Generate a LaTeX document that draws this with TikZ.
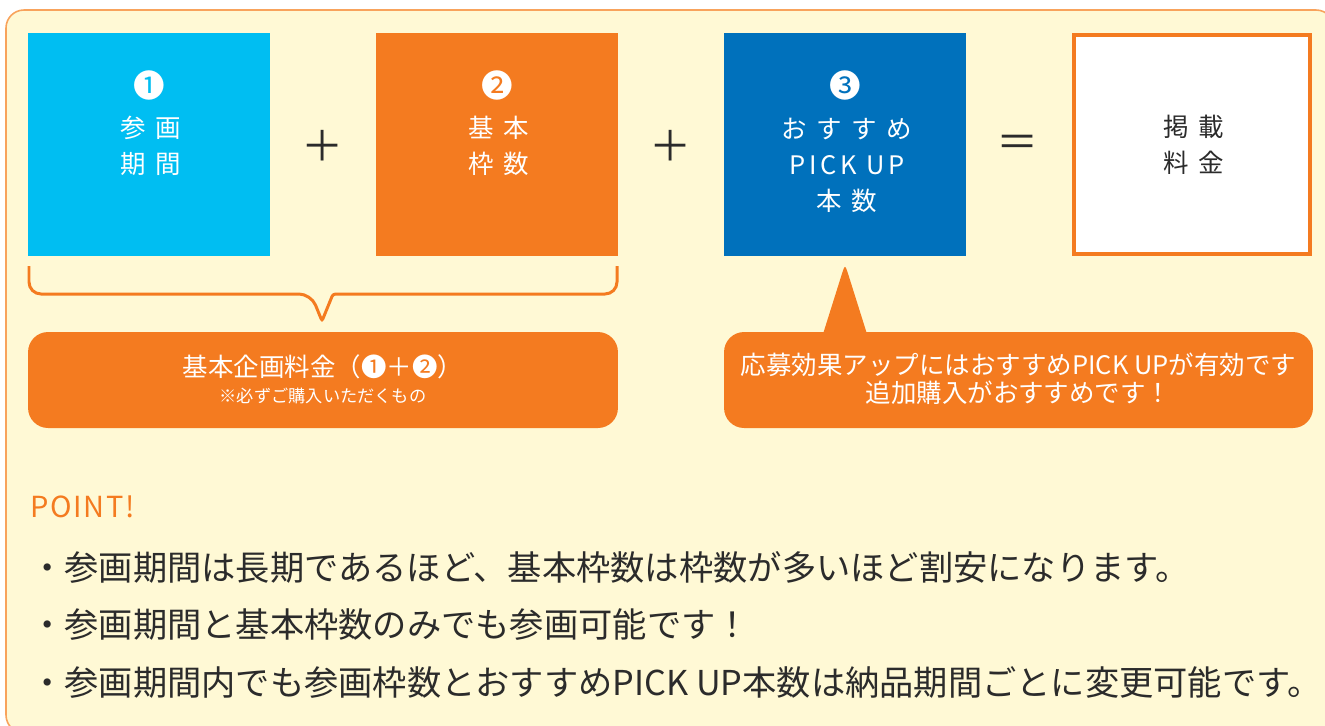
\documentclass[tikz,border=0pt]{standalone}
\usepackage{fontspec}
\usepackage{xcolor}
\usepackage{tikz}
\usetikzlibrary{positioning}
\setmainfont{Noto Sans CJK JP}
\newfontfamily\spacedfont[LetterSpace=37]{Noto Sans CJK JP}
\newfontfamily\latinspaced[LetterSpace=14]{Noto Sans CJK JP}
\newfontfamily\pointfont[LetterSpace=6]{Noto Sans CJK JP}

\definecolor{paneyellow}{HTML}{FFF9D5}
\definecolor{paneedge}{HTML}{F8A35C}
\definecolor{termcyan}{HTML}{00BEF2}
\definecolor{termorange}{HTML}{F47B20}
\definecolor{termblue}{HTML}{0071BC}
\definecolor{inkgray}{HTML}{2B2B2B}

\tikzset{
term box/.style = { rectangle, draw = none, minimum width = 4.84cm, minimum height = 4.46cm, inner sep = 0pt },
total box/.style = { rectangle, draw = termorange, fill = white, line width = 2.2pt, minimum width = 4.72cm, minimum height = 4.38cm, inner sep = 0pt },
term text/.style = { text = white, align = center, inner sep = 0pt, font = \spacedfont\fontsize{14.5}{20.5}\selectfont },
term number/.style = { text = white, inner sep = 0pt, font = \fontsize{18}{18}\selectfont },
operator/.style = { text = inkgray, inner sep = 0pt, font = \fontsize{24}{24}\selectfont },
bubble/.style = { rectangle, fill = termorange, rounded corners = 0.4cm, minimum width = 11.8cm, minimum height = 1.92cm, inner sep = 0pt },
bubble text/.style = { text = white, align = center, inner sep = 0pt, font = \fontsize{14.5}{16}\selectfont },
bullet line/.style = { anchor = west, text = inkgray, inner sep = 0pt, font = \fontsize{19.5}{19.5}\selectfont },
}

\begin{document}
\begin{tikzpicture}[x = 0.02cm, y = -0.02cm]
    \useasboundingbox (0, 0) rectangle (1325, 725);
    % pane
    \draw[draw = paneedge, fill = paneyellow, line width = 0.9pt, rounded corners = 0.36cm] (6, 10) rectangle (1334, 733);

    % the three terms and the total
    \node[term box, fill = termcyan] (kikan) at (149, 144.5) {};
    \node[term box, fill = termorange] (waku) at (497, 144.5) {};
    \node[term box, fill = termblue] (pickup) at (845, 144.5) {};
    \node[total box] (keisai) at (1192, 144.5) {};

    \node[term number] (kikan-num) at (149, 85) {❶};
    \node[term text] (kikan-txt) at (151, 146) {参画\\期間};
    \node[term number] (waku-num) at (497, 85) {❷};
    \node[term text] (waku-txt) at (499, 146) {基本\\枠数};
    \node[term number] (pickup-num) at (845, 85) {❸};
    \node[term text] (pickup-txt) at (847, 165) {おすすめ\\{\latinspaced PICK UP}\\本数};
    \node[term text, text = inkgray] (keisai-txt) at (1194, 145) {掲載\\料金};

    \node[operator] (plus-a) at (323, 146) {＋};
    \node[operator] (plus-b) at (671, 146) {＋};
    \node[operator] (equal) at (1018, 146) {＝};

    % brace under terms 1 and 2
    \draw[termorange, line width = 1.7pt, rounded corners = 0.24cm] (29, 266) -- (29, 294) -- (311, 294) [rounded corners = 0.05cm] -- (322, 321) -- (333, 294) [rounded corners = 0.24cm] -- (617, 294) -- (617, 266);

    \node[bubble] (kihon-note) at (323, 380) {};
    \node[bubble text] (kihon-main) at (323, 367) {基本企画料金（❶＋❷）};
    \node[bubble text, font = \fontsize{9.8}{11}\selectfont] (kihon-sub) at (323, 396) {※必ずご購入いただくもの};

    % callout for term 3
    \fill[termorange] (823, 334) -- (842.5, 272) .. controls (845, 265) .. (847.5, 272) -- (867, 334) -- cycle;
    \node[bubble, minimum width = 11.78cm] (pickup-note) at (1018.5, 380) {};
    \node[bubble text] (pickup-main) at (1018.5, 379) {応募効果アップにはおすすめPICK UPが有効です\\追加購入がおすすめです！};

    % points
    \node[anchor = west, text = termorange, inner sep = 0pt, font = \pointfont\fontsize{16.5}{16.5}\selectfont] (point-head) at (30, 507) {POINT!};
    \node[bullet line] (point-a) at (30, 567) {・参画期間は長期であるほど、基本枠数は枠数が多いほど割安になります。};
    \node[bullet line] (point-b) at (30, 625) {・参画期間と基本枠数のみでも参画可能です！};
    \node[bullet line] (point-c) at (30, 683) {・参画期間内でも参画枠数とおすすめPICK UP本数は納品期間ごとに変更可能です。};
\end{tikzpicture}
\end{document}
